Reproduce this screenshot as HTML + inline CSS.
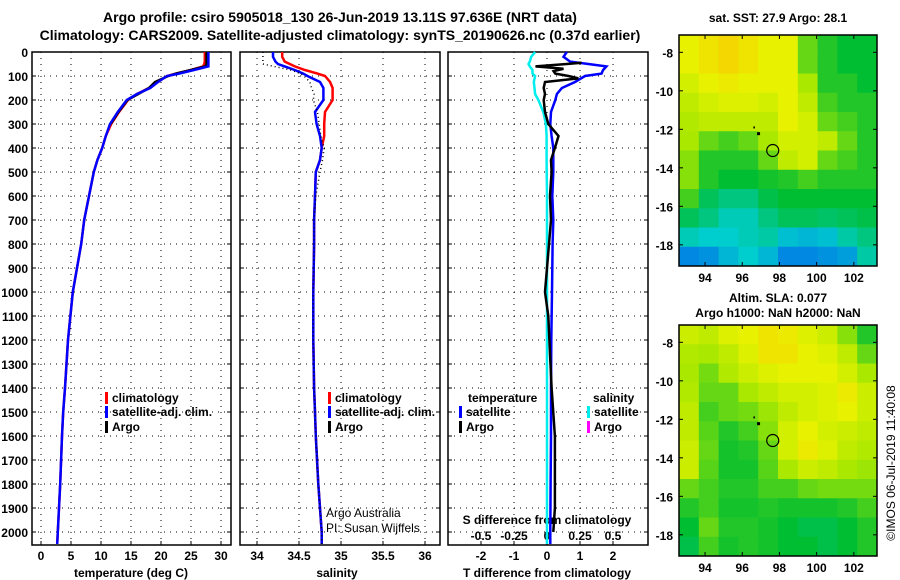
<!DOCTYPE html>
<html><head><meta charset="utf-8"><style>
body{margin:0;background:#fff}
svg{display:block;font-family:"Liberation Sans",sans-serif}
.b{font-weight:bold;font-size:12px}
.n{font-weight:normal;font-size:12px}
</style></head><body>
<svg id="c" width="900" height="580"></svg>
<script>
const depths=[0,20,40,50,60,75,90,100,125,150,175,200,250,300,350,400,450,500,600,700,800,1000,1200,1400,1500,1600,1800,2000,2050];
const tempClim=[27.3,27.3,27.3,27.2,27.0,25.0,22.5,21.0,19.5,18.0,16.0,14.5,13.0,11.7,10.8,10.2,9.4,8.8,8.0,7.2,6.7,5.3,4.5,4.0,3.7,3.5,3.2,2.8,2.7];
const tempSat=[27.9,27.9,27.9,27.9,27.9,25.5,23.0,21.0,19.5,18.2,16.0,14.3,12.8,11.5,10.8,10.2,9.4,8.8,8.0,7.2,6.7,5.3,4.5,4.0,3.7,3.5,3.2,2.8,2.7];
const tempArgo=[27.6,27.6,27.6,27.6,27.4,25.0,22.5,21.2,19.0,18.0,16.2,14.4,12.9,11.6];
const salClim=[34.3,34.3,34.33,34.39,34.45,34.57,34.72,34.81,34.87,34.9,34.9,34.9,34.81,34.8,34.8,34.77,34.75,34.7,34.69,34.68,34.68,34.67,34.67,34.68,34.69,34.7,34.73,34.77,34.77];
const salSat=[34.19,34.19,34.22,34.25,34.33,34.45,34.55,34.6,34.75,34.79,34.79,34.79,34.69,34.71,34.75,34.77,34.75,34.7,34.69,34.68,34.68,34.67,34.67,34.68,34.69,34.7,34.73,34.77,34.77];
const salArgo=[34.07,34.07,34.07,34.07,34.2,34.4,34.52,34.56,34.63,34.65,34.68,34.67,34.72,34.74,34.76,34.8,34.78,34.75,34.7,34.68,34.68,34.67,34.67,34.68,34.69,34.7,34.73,34.77,34.77];
const tDiffSat=[0.6,0.5,0.7,1.25,1.8,1.7,1.65,1.15,0.85,0.45,0.3,0.25,0.12,0.1,0.14,0.19,0.19,0.19,0.16,0.19,0.17,0.15,0.13,0.12,0.12,0.12,0.11,0.1,0.1];
const dDepths=[45,50,60,70,80,90,100,110,125,150,175,200,250,300,350,400,450,500,600,700,800,1000,1100,1400,1600,1900,2000];
const tDiffArgo=[1.05,0.6,-0.35,0.5,0.2,0.25,0.65,0.95,-0.06,-0.1,-0.06,-0.1,-0.06,0.04,0.35,0.24,0.12,0.14,0.09,0.12,0.06,-0.06,0.04,0.14,0.24,0.24,0.19];
const sDiffSat=[-0.09,-0.12,-0.13,-0.14,-0.13,-0.11,-0.11,-0.09,-0.1,-0.095,-0.09,-0.065,-0.028,-0.008,-0.003,-0.003,-0.003,-0.002,0,0,0,0,0,0,0,0,0,0,0];
const depthTicks=[0,100,200,300,400,500,600,700,800,900,1000,1100,1200,1300,1400,1500,1600,1700,1800,1900,2000];
const tTicks=[0,5,10,15,20,25,30];
const sTicks=[34,34.5,35,35.5,36];
const dTicks=[-2,-1,0,1,2];
const sdTicks=[-0.5,-0.25,0,0.25,0.5];
const lonTicks=[94,96,98,100,102];
const latTicks=[-8,-10,-12,-14,-16,-18];
const sstGrid=[
[.85,.9,.95,.9,.85,.85,.6,.5,.45,.45],[.85,.9,.95,.9,.85,.85,.6,.5,.45,.45],
[.8,.85,.88,.85,.85,.85,.7,.5,.5,.45],[.75,.8,.82,.82,.8,.85,.75,.55,.5,.5],
[.72,.75,.75,.75,.75,.85,.8,.6,.55,.5],[.7,.6,.55,.6,.7,.8,.8,.75,.6,.5],
[.65,.5,.5,.5,.6,.75,.8,.6,.55,.5],[.65,.5,.45,.45,.48,.5,.55,.5,.5,.5],
[.55,.4,.35,.35,.42,.45,.45,.45,.45,.45],[.4,.35,.28,.28,.35,.4,.4,.38,.4,.42],
[.28,.25,.25,.28,.3,.22,.2,.22,.3,.35],[.1,.12,.2,.25,.2,.1,.1,.12,.15,.3]];
const slaGrid=[
[.78,.75,.82,.85,.9,.88,.82,.78,.65,.5],[.72,.7,.75,.82,.9,.9,.85,.82,.75,.6],
[.7,.62,.72,.78,.82,.85,.85,.85,.8,.7],[.72,.6,.6,.7,.75,.8,.8,.82,.88,.78],
[.75,.55,.6,.62,.68,.75,.8,.82,.85,.78],[.75,.58,.5,.55,.65,.8,.85,.8,.78,.75],
[.78,.6,.48,.5,.6,.8,.88,.82,.75,.72],[.78,.58,.48,.48,.58,.7,.78,.75,.7,.68],
[.6,.55,.5,.5,.55,.55,.6,.62,.62,.62],[.5,.55,.48,.48,.5,.48,.48,.48,.5,.55],
[.45,.6,.5,.5,.48,.45,.42,.42,.45,.5],[.42,.55,.48,.5,.48,.45,.45,.42,.45,.5]];

const NS='http://www.w3.org/2000/svg';const svg=document.getElementById('c');
function el(t,a,p){const e=document.createElementNS(NS,t);for(const k in a)e.setAttribute(k,a[k]);(p||svg).appendChild(e);return e;}
function txt(x,y,s,cls,anchor,name){const e=el('text',{x:x,y:y,class:cls,'text-anchor':anchor||'start'});e.textContent=s;

return e;}
const Y=d=>52+d*0.24;
const TOP=52,BOT=545;
const xT=t=>41+t*6, xS=s=>257+(s-34)*84, xD=d=>547+d*33, xSD=s=>547+s*132;
function panel(x0,x1,name,ticks,fx){
  const g=el('g',{});
  depthTicks.forEach(d=>{const y=Y(d);el('line',{x1:x0,x2:x1,y1:y,y2:y,stroke:'#000','stroke-dasharray':'1 5'},g);
    el('line',{x1:x0,x2:x0+4,y1:y,y2:y,stroke:'#000'},g);el('line',{x1:x1-4,x2:x1,y1:y,y2:y,stroke:'#000'},g);});
  ticks.forEach((t)=>{const x=fx(t);el('line',{x1:x,x2:x,y1:TOP,y2:BOT,stroke:'#000','stroke-dasharray':'1 5'},g);
    el('line',{x1:x,x2:x,y1:BOT,y2:BOT-4,stroke:'#000'},g);
    txt(x,560,String(t),'b','middle','x-tick-label');});
  el('rect',{x:x0,y:TOP,width:x1-x0,height:BOT-TOP,fill:'none',stroke:'#000','stroke-width':1.5},g);
}
function line(xs,ds,fx,col,name,w,dash){
  const p=xs.map((v,i)=>fx(v).toFixed(1)+','+Y(ds[i]).toFixed(1)).join(' ');
  const e=el('polyline',{points:p,fill:'none',stroke:col,'stroke-width':w||2.5,'stroke-dasharray':dash||'none'});
  
  
}
txt(340,22,'Argo profile: csiro 5905018_130 26-Jun-2019 13.11S 97.636E (NRT data)','b','middle','title-line-1').setAttribute('style','font-size:14px');
txt(340,40,'Climatology: CARS2009. Satellite-adjusted climatology: synTS_20190626.nc (0.37d earlier)','b','middle','title-line-2').setAttribute('style','font-size:14px');
depthTicks.forEach(d=>txt(28,Y(d)+5,String(d),'b','end','y-tick-label'));
panel(32,231,'temperature-panel',tTicks,xT);
panel(240,440,'salinity-panel',sTicks,xS);
panel(448,648,'difference-panel',dTicks,xD);
sdTicks.forEach(s=>txt(xSD(s),540,String(s),'b','middle','s-diff-tick-label'));
txt(547,524,'S difference from climatology','b','middle','s-diff-axis-title');
txt(131,577,'temperature (deg C)','b','middle','x-axis-title-temperature');
txt(337,577,'salinity','b','middle','x-axis-title-salinity');
txt(547,577,'T difference from climatology','b','middle','x-axis-title-tdiff');
line(tempClim,depths,xT,'#f00','temp-climatology-line');
line(tempArgo,depths,xT,'#000','temp-argo-line');
line(tempSat,depths,xT,'#00f','temp-satellite-line');
line(salClim,depths,xS,'#f00','sal-climatology-line');
line(salSat,depths,xS,'#00f','sal-satellite-line');
line(salArgo,depths,xS,'#000','sal-argo-line',1.5,'1 3');
line(sDiffSat,depths,xSD,'#0ee','sdiff-satellite-line');
line(tDiffSat,depths,xD,'#00f','tdiff-satellite-line');
line(tDiffArgo,dDepths,xD,'#000','tdiff-argo-line',2.5);
function leg(x,y,col,s,name){const r=el('rect',{x:x,y:y-10,width:3,height:12,fill:col});
  txt(x+7,y,s,'b','start',name);}
leg(105,402,'#f00','climatology','legend-climatology');leg(105,416,'#00f','satellite-adj. clim.','legend-satellite');leg(105,431,'#000','Argo','legend-argo');
leg(328,402,'#f00','climatology','legend2-climatology');leg(328,416,'#00f','satellite-adj. clim.','legend2-satellite');leg(328,431,'#000','Argo','legend2-argo');
txt(468,402,'temperature','b','start','legend-temperature-header');
leg(459,416,'#00f','satellite','legend-t-satellite');leg(459,431,'#000','Argo','legend-t-argo');
txt(593,402,'salinity','b','start','legend-salinity-header');
leg(587,416,'#0ee','satellite','legend-s-satellite');leg(587,431,'#f0f','Argo','legend-s-argo');
txt(326,517,'Argo Australia','n','start','credit-argo-australia');
txt(326,532,'PI: Susan Wijffels','n','start','credit-pi');
const stops=[[0,[0,90,240]],[.25,[0,205,205]],[.45,[0,190,50]],[.7,[170,232,0]],[.85,[232,242,0]],[1,[250,200,0]]];
function cmap(v){for(let i=1;i<stops.length;i++){if(v<=stops[i][0]){const a=stops[i-1],b=stops[i],f=(v-a[0])/(b[0]-a[0]);
  return 'rgb('+a[1].map((c,k)=>Math.round(c+(b[1][k]-c)*f)).join(',')+')';}}return 'rgb(250,200,0)';}
function map(y0,y1,grid,name,lat0){
  const x0=679,x1=877;const g=el('g',{});
  const rows=grid.length,cols=grid[0].length,cw=(x1-x0)/cols,ch=(y1-y0)/rows;
  grid.forEach((r,i)=>r.forEach((v,j)=>{const c=el('rect',{x:x0+j*cw,y:y0+i*ch,width:cw+0.5,height:ch+0.5,fill:cmap(v)},g);
    }));
  el('rect',{x:x0,y:y0,width:x1-x0,height:y1-y0,fill:'none',stroke:'#000','stroke-width':1.5},g);
  const fy=l=>y0+(lat0-l)*((y1-y0)/12.0);
  const fx=l=>x0+(l-92.6)*18.6;
  lonTicks.forEach(l=>{el('line',{x1:fx(l),x2:fx(l),y1:y0,y2:y0+4,stroke:'#000'},g);el('line',{x1:fx(l),x2:fx(l),y1:y1,y2:y1-4,stroke:'#000'},g);
    txt(fx(l),y1+16,String(l),'b','middle','lon-tick-label');});
  latTicks.forEach(l=>{el('line',{x1:x0,x2:x0+4,y1:fy(l),y2:fy(l),stroke:'#000'},g);el('line',{x1:x1,x2:x1-4,y1:fy(l),y2:fy(l),stroke:'#000'},g);
    txt(673,fy(l)+5,String(l),'b','end','lat-tick-label');});
  const cy=fy(-13.1);const m=el('circle',{cx:fx(97.64),cy:cy,r:6,fill:'none',stroke:'#000','stroke-width':1.2},g);
  
  el('rect',{x:fx(96.85)-1,y:fy(-12.2)-1,width:3,height:3,fill:'#000'},g);
  el('rect',{x:fx(96.6),y:fy(-11.85),width:1.5,height:2,fill:'#000'},g);
}
map(35,266,sstGrid,'sst-map',-7.1);
map(325,556,slaGrid,'sla-map',-7.1);
txt(778,22,'sat. SST: 27.9 Argo: 28.1','b','middle','sst-map-title');
txt(778,302,'Altim. SLA: 0.077','b','middle','sla-map-title');
txt(778,317,'Argo h1000: NaN h2000: NaN','b','middle','sla-map-subtitle');
const cr=txt(0,0,'©IMOS 06-Jul-2019 11:40:08','n','middle','copyright');
cr.setAttribute('transform','translate(895,463) rotate(-90)');
</script>
</body></html>
